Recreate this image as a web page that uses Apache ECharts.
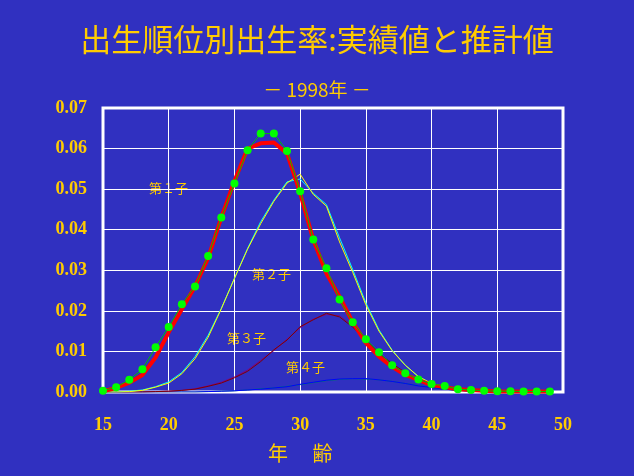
<!DOCTYPE html>
<html>
<head>
<meta charset="utf-8">
<script src="https://cdn.jsdelivr.net/npm/echarts@6/dist/echarts.min.js"></script>
<style>
  html, body { margin: 0; padding: 0; background: #3030c0; }
</style>
</head>
<body>
<div id="myechart" style="width:634px;height:476px"></div>
<script>
// 年齢 15〜49
var ages = [15, 16, 17, 18, 19, 20, 21, 22, 23, 24, 25, 26, 27, 28, 29, 30, 31, 32,
            33, 34, 35, 36, 37, 38, 39, 40, 41, 42, 43, 44, 45, 46, 47, 48, 49];

// 第1子 実績値(緑の点)
var first_actual = [0.0003, 0.0012, 0.0030, 0.0056, 0.0110, 0.0160, 0.0216, 0.0260, 0.0335, 0.0430,
                    0.0514, 0.0596, 0.0637, 0.0637, 0.0594, 0.0495, 0.0376, 0.0305, 0.0228, 0.0172,
                    0.0130, 0.0098, 0.0066, 0.0046, 0.0031, 0.0020, 0.0015, 0.0007, 0.0005, 0.0003,
                    0.0002, 0.0002, 0.0001, 0.0001, 0.0001];
// 第1子 推計値(赤)
var first_est = [0.0002, 0.0010, 0.0023, 0.0042, 0.0085, 0.0147, 0.0204, 0.0260, 0.0330, 0.0430,
                 0.0520, 0.0600, 0.0613, 0.0615, 0.0588, 0.0490, 0.0375, 0.0292, 0.0235, 0.0172,
                 0.0121, 0.0087, 0.0062, 0.0042, 0.0030, 0.0017, 0.0012, 0.0007, 0.0005, 0.0003,
                 0.0001, 0.0001, 0.0001, 0.0001, 0.0001];
// 第2子
var second_actual = [0, 0, 0.0001, 0.0004, 0.0012, 0.0022, 0.0045, 0.0082, 0.0135, 0.0205,
                     0.0280, 0.0352, 0.0415, 0.0470, 0.0515, 0.0537, 0.0487, 0.0458, 0.0370, 0.0295,
                     0.0215, 0.0150, 0.0102, 0.0066, 0.0038, 0.0021, 0.0012, 0.0006, 0.0003, 0.0002,
                     0.0001, 0, 0, 0, 0];
var second_est = [0, 0, 0.0002, 0.0005, 0.0013, 0.0025, 0.0048, 0.0087, 0.0140, 0.0206,
                  0.0280, 0.0354, 0.0420, 0.0473, 0.0518, 0.0525, 0.0490, 0.0462, 0.0380, 0.0302,
                  0.0220, 0.0153, 0.0103, 0.0066, 0.0038, 0.0021, 0.0012, 0.0006, 0.0003, 0.0002,
                  0.0001, 0, 0, 0, 0];
// 第3子
var third_actual = [0, 0, 0, 0, 0.0001, 0.0002, 0.0004, 0.0007, 0.0014, 0.0022,
                    0.0035, 0.0051, 0.0075, 0.0104, 0.0128, 0.0161, 0.0178, 0.0194, 0.0185, 0.0160,
                    0.0128, 0.0095, 0.0070, 0.0048, 0.0030, 0.0019, 0.0010, 0.0005, 0.0003, 0.0001,
                    0, 0, 0, 0, 0];
var third_est = [0, 0, 0, 0, 0.0001, 0.0002, 0.0004, 0.0008, 0.0015, 0.0024,
                 0.0037, 0.0054, 0.0078, 0.0102, 0.0130, 0.0158, 0.0180, 0.0191, 0.0188, 0.0163,
                 0.0126, 0.0093, 0.0068, 0.0047, 0.0030, 0.0018, 0.0010, 0.0005, 0.0002, 0.0001,
                 0, 0, 0, 0, 0];
// 第4子
var fourth_actual = [0, 0, 0, 0, 0, 0, 0, 0, 0.0001, 0.0002,
                     0.0003, 0.0005, 0.0007, 0.0010, 0.0013, 0.0019, 0.0024, 0.0029, 0.0032, 0.0033,
                     0.0033, 0.0030, 0.0026, 0.0021, 0.0015, 0.0011, 0.0007, 0.0004, 0.0002, 0.0001,
                     0, 0, 0, 0, 0];
var fourth_est = [0, 0, 0, 0, 0, 0, 0, 0, 0.0001, 0.0002,
                  0.0003, 0.0005, 0.0008, 0.0010, 0.0014, 0.0018, 0.0023, 0.0028, 0.0031, 0.0033,
                  0.0032, 0.0030, 0.0026, 0.0021, 0.0016, 0.0011, 0.0007, 0.0004, 0.0002, 0.0001,
                  0, 0, 0, 0, 0];

var seriesNames = ["第１子", "第２子", "第３子", "第４子"];

function pairs(arr) {
    return ages.map(function (a, i) { return [a, arr[i]]; });
}

var gold = "#ffcc00";

function thinLine(name, data, color) {
    return {
        name: name,
        type: "line",
        data: pairs(data),
        showSymbol: false,
        lineStyle: { color: color, width: 1 },
        silent: true
    };
}

var option = {
    backgroundColor: "#3030c0",
    animation: false,
    title: [
        {
            text: "出生順位別出生率:実績値と推計値",
            left: "center",
            top: 19,
            textStyle: { color: gold, fontSize: 31, fontWeight: "normal", fontFamily: "Noto Sans CJK JP" }
        },
        {
            text: "－ 1998年 －",
            left: "center",
            top: 75,
            textStyle: { color: gold, fontSize: 19, fontWeight: "normal", fontFamily: "Noto Sans CJK JP" }
        }
    ],
    grid: {
        left: 103,
        right: 71,
        top: 108,
        bottom: 84,
        show: true,
        borderColor: "#ffffff",
        borderWidth: 3,
        backgroundColor: "transparent"
    },
    xAxis: {
        type: "value",
        min: 15,
        max: 50,
        interval: 5,
        axisLine: { show: false },
        axisTick: { show: false },
        splitLine: { lineStyle: { color: "#ffffff", width: 1 } },
        axisLabel: {
            color: gold,
            fontSize: 18,
            fontWeight: "bold",
            fontFamily: "Liberation Serif",
            margin: 24
        }
    },
    yAxis: {
        type: "value",
        min: 0,
        max: 0.07,
        interval: 0.01,
        axisLine: { show: false },
        axisTick: { show: false },
        splitLine: { lineStyle: { color: "#ffffff", width: 1 } },
        axisLabel: {
            color: gold,
            fontSize: 18,
            fontWeight: "bold",
            fontFamily: "Liberation Serif",
            margin: 16,
            formatter: function (v) { return v.toFixed(2); }
        }
    },
    graphic: [
        { type: "text", left: 268, top: 443, style: { text: "年　 齢", fill: gold, fontSize: 20, fontFamily: "Noto Sans CJK JP" } },
        { type: "text", left: 149, top: 182, style: { text: seriesNames[0], fill: gold, fontSize: 13, fontFamily: "Noto Sans CJK JP" } },
        { type: "text", left: 252, top: 268, style: { text: seriesNames[1], fill: gold, fontSize: 13, fontFamily: "Noto Sans CJK JP" } },
        { type: "text", left: 227, top: 332, style: { text: seriesNames[2], fill: gold, fontSize: 13, fontFamily: "Noto Sans CJK JP" } },
        { type: "text", left: 286, top: 361, style: { text: seriesNames[3], fill: gold, fontSize: 13, fontFamily: "Noto Sans CJK JP" } }
    ],
    series: [
        thinLine("第4子推計", fourth_est, "#008060"),
        thinLine("第4子実績", fourth_actual, "#0000ff"),
        thinLine("第3子推計", third_est, "#800080"),
        thinLine("第3子実績", third_actual, "#800000"),
        thinLine("第2子推計", second_est, "#00ffff"),
        thinLine("第2子実績", second_actual, "#ffff00"),
        {
            name: "第1子推計",
            type: "line",
            data: pairs(first_est),
            showSymbol: false,
            lineStyle: { color: "#ff0000", width: 4 },
            silent: true
        },
        {
            name: "第1子実績",
            type: "line",
            data: pairs(first_actual),
            symbol: "circle",
            symbolSize: 8,
            itemStyle: { color: "#00ff00" },
            lineStyle: { color: "#00c000", width: 1 },
            silent: true
        }
    ]
};

var myChart = echarts.init(document.getElementById("myechart"));
myChart.setOption(option);
</script>
</body>
</html>
